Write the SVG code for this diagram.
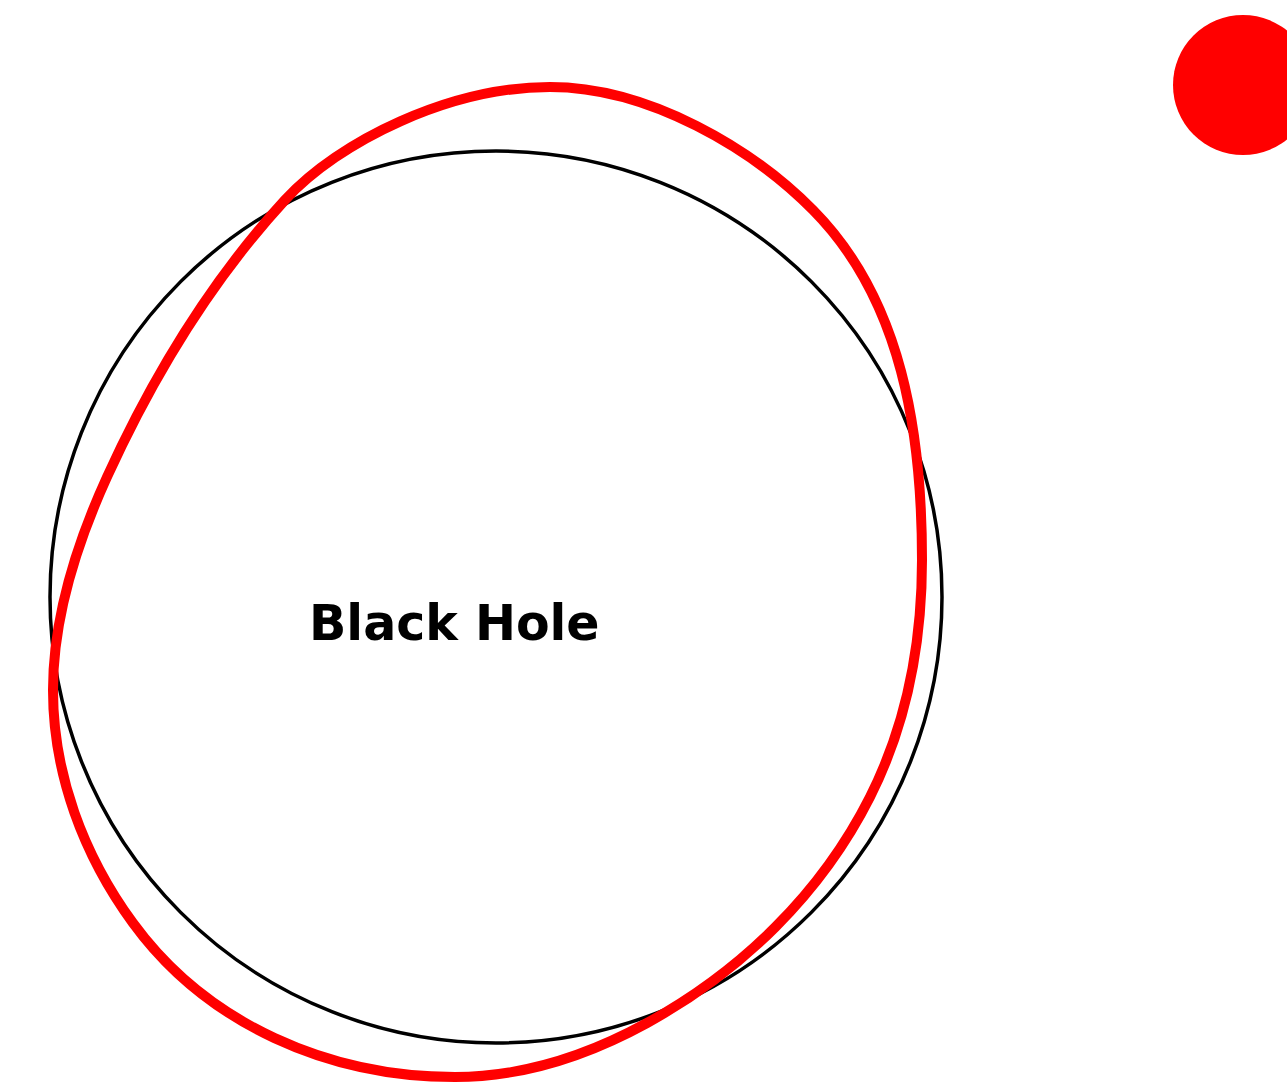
<svg xmlns="http://www.w3.org/2000/svg" width="1287" height="1083" viewBox="0 0 1287 1083">
  <style>
    .hole { fill: none; stroke: #000; stroke-width: 3.5; }
    .orbit { fill: none; stroke: #ff0000; stroke-width: 10; }
    .star { fill: #ff0000; }
    .label { font-family: "DejaVu Sans", "Liberation Sans", sans-serif; font-weight: bold; font-size: 49px; fill: #000; }
  </style>
  <rect width="1287" height="1083" fill="#fff"/>
  <g id="black-hole">
    <circle class="hole" cx="496" cy="597" r="446"/>
    <text class="label" x="309" y="640">Black Hole</text>
  </g>
  <g id="orbit">
    <path class="orbit" d="M 550 87
      C 650 87, 753.2 149.7, 813 210
      C 902.4 300.2, 922 433, 922 560
      C 922 641.7, 906.8 724, 870 797
      C 821.4 893.4, 741.7 971, 647 1023
      C 588.1 1055.3, 522.2 1077, 455 1077
      C 329.2 1077, 207.2 1024.6, 133 923
      C 83.4 855.1, 53 774, 53 690
      C 53 616.2, 76.4 544.2, 107 477
      C 152.8 376.6, 210.4 281.3, 285 200
      C 339.1 141, 450 87, 550 87 Z"/>
  </g>
  <g id="star">
    <circle class="star" cx="1243" cy="85" r="70"/>
  </g>
</svg>
